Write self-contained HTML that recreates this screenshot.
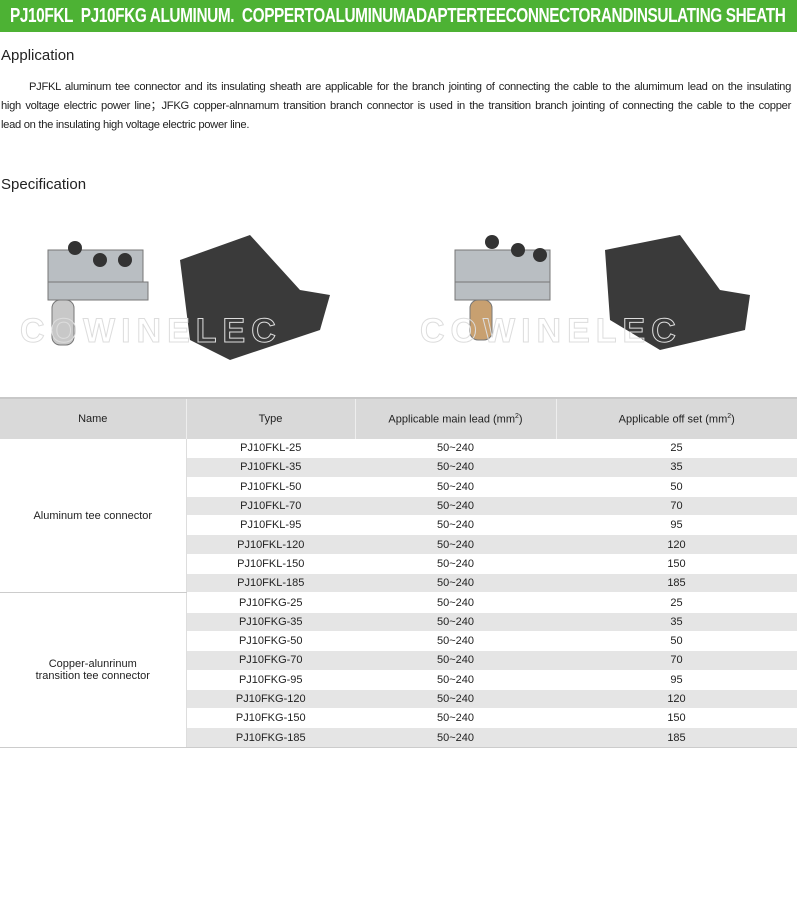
<!DOCTYPE html>
<html><head><style>
body{margin:0;width:800px;height:922px;background:#fff;font-family:"Liberation Sans",Arial,sans-serif;position:relative;overflow:hidden}
.hdrbg{position:absolute;left:0;top:0;width:797px;height:32px;background:#4db234}
.hdr{position:absolute;left:10px;top:0;color:#fff;font-weight:bold;font-size:20px;line-height:32px;letter-spacing:-0.5px;transform:scaleX(0.768);transform-origin:left;white-space:nowrap}
.h2{position:absolute;left:1px;font-size:15px;color:#222}
.p{position:absolute;left:1px;top:78px;width:790px;font-size:11.2px;line-height:19px;color:#222;letter-spacing:-0.3px}
.p div{text-align:justify;text-align-last:justify;white-space:nowrap}
.p div.l{text-align-last:left}
table{position:absolute;left:0;top:397px;width:797px;border-collapse:collapse;font-size:11px;color:#222;table-layout:fixed}
td{text-align:center;height:18.3px;padding:0;border-bottom:1px solid #fff}
th{height:38px;background:#d9d9d9;font-weight:normal;border-left:1px solid #eee;font-size:11px;color:#222;border-top:2px solid #c8c8c8}
tr.g td.c{background:#e5e5e5}
td.n{border-right:1px solid #ddd;border-bottom:1px solid #ccc}
tr.last td{border-bottom:1px solid #ccc}
</style></head><body>
<div class="hdrbg"></div>
<div class="hdr">PJ10FKL&nbsp; PJ10FKG ALUMINUM.&nbsp; COPPERTOALUMINUMADAPTERTEECONNECTORANDINSULATING SHEATH</div>
<div class="h2" style="top:47px">Application</div>
<div class="p">
<div style="padding-left:28px;white-space:normal">PJFKL aluminum tee connector and its insulating sheath are applicable for the branch jointing of connecting the cable to the alumimum lead on the insulating</div>
<div style="white-space:normal">high voltage electric power line；JFKG copper-alnnamum transition branch connector is used in the transition branch jointing of connecting the cable to the copper</div>
<div class="l">lead on the insulating high voltage electric power line.</div>
</div>
<div class="h2" style="top:176px">Specification</div>
<svg style="position:absolute;left:0;top:220px" width="800" height="160">
<g fill="#b9bec2" stroke="#777">
<rect x="48" y="30" width="95" height="32"/><rect x="48" y="62" width="100" height="18"/>
<rect x="52" y="80" width="22" height="45" rx="8" fill="#c8c8c8"/>
<rect x="455" y="30" width="95" height="32"/><rect x="455" y="62" width="95" height="18"/>
<rect x="470" y="80" width="22" height="40" rx="8" fill="#c8a070"/>
</g>
<g fill="#333"><circle cx="75" cy="28" r="7"/><circle cx="100" cy="40" r="7"/><circle cx="125" cy="40" r="7"/>
<circle cx="492" cy="22" r="7"/><circle cx="518" cy="30" r="7"/><circle cx="540" cy="35" r="7"/></g>
<g fill="#3a3a3a"><path d="M180 40 L250 15 L300 70 L330 75 L320 110 L230 140 L190 120 Z"/>
<path d="M605 30 L680 15 L720 70 L750 75 L745 110 L660 130 L610 100 Z"/></g>
<text x="20" y="122" font-size="34" font-weight="bold" fill="none" stroke="#ddd" letter-spacing="6">COWINELEC</text>
<text x="420" y="122" font-size="34" font-weight="bold" fill="none" stroke="#ddd" letter-spacing="6">COWINELEC</text>
</svg>
<table>
<colgroup><col style="width:186px"><col style="width:169px"><col style="width:201px"><col style="width:241px"></colgroup>
<tr><th style="border-left:none">Name</th><th>Type</th><th>Applicable main lead (mm<sup style="font-size:7px">2</sup>)</th><th>Applicable off set (mm<sup style="font-size:7px">2</sup>)</th></tr>
<tr><td class="n" rowspan="8">Aluminum tee connector</td><td class="c">PJ10FKL-25</td><td class="c">50~240</td><td class="c">25</td></tr>
<tr class="g"><td class="c">PJ10FKL-35</td><td class="c">50~240</td><td class="c">35</td></tr>
<tr><td class="c">PJ10FKL-50</td><td class="c">50~240</td><td class="c">50</td></tr>
<tr class="g"><td class="c">PJ10FKL-70</td><td class="c">50~240</td><td class="c">70</td></tr>
<tr><td class="c">PJ10FKL-95</td><td class="c">50~240</td><td class="c">95</td></tr>
<tr class="g"><td class="c">PJ10FKL-120</td><td class="c">50~240</td><td class="c">120</td></tr>
<tr><td class="c">PJ10FKL-150</td><td class="c">50~240</td><td class="c">150</td></tr>
<tr class="g"><td class="c">PJ10FKL-185</td><td class="c">50~240</td><td class="c">185</td></tr>
<tr><td class="n" rowspan="8">Copper-alunrinum<br>transition tee connector</td><td class="c">PJ10FKG-25</td><td class="c">50~240</td><td class="c">25</td></tr>
<tr class="g"><td class="c">PJ10FKG-35</td><td class="c">50~240</td><td class="c">35</td></tr>
<tr><td class="c">PJ10FKG-50</td><td class="c">50~240</td><td class="c">50</td></tr>
<tr class="g"><td class="c">PJ10FKG-70</td><td class="c">50~240</td><td class="c">70</td></tr>
<tr><td class="c">PJ10FKG-95</td><td class="c">50~240</td><td class="c">95</td></tr>
<tr class="g"><td class="c">PJ10FKG-120</td><td class="c">50~240</td><td class="c">120</td></tr>
<tr><td class="c">PJ10FKG-150</td><td class="c">50~240</td><td class="c">150</td></tr>
<tr class="g last"><td class="c">PJ10FKG-185</td><td class="c">50~240</td><td class="c">185</td></tr>
</table>
</body></html>
